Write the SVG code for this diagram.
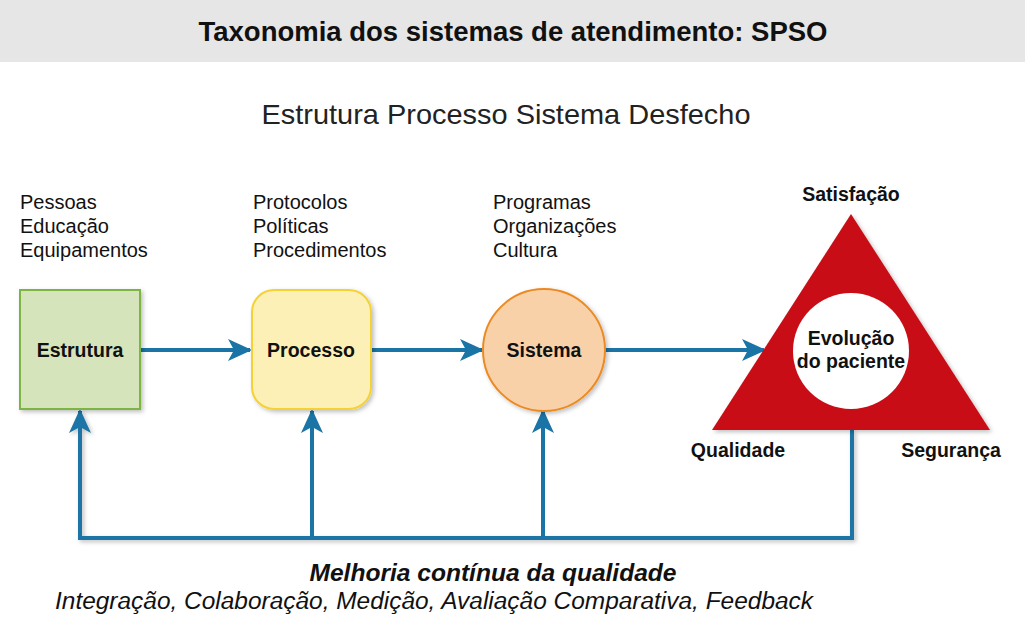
<svg xmlns="http://www.w3.org/2000/svg" width="1025" height="641" viewBox="0 0 1025 641">
<defs>
<style>
text{font-family:"Liberation Sans",Arial,sans-serif;fill:#111}
.b{font-weight:bold}
.lst{font-size:20px}
.lbl{font-size:19.5px;font-weight:bold;text-anchor:middle}
.conn{stroke:#1a74a6;stroke-width:4;fill:none}
</style>
<marker id="ah" viewBox="0 0 24 22" refX="22" refY="11" markerWidth="24" markerHeight="22" markerUnits="userSpaceOnUse" orient="auto">
<path d="M0,0 L24,11 L0,22 L6,11 Z" fill="#1a74a6"/>
</marker>
<filter id="sh" x="-20%" y="-20%" width="140%" height="140%">
<feDropShadow dx="2" dy="2" stdDeviation="2" flood-color="#000" flood-opacity="0.25"/>
</filter>
</defs>
<rect x="0" y="0" width="1025" height="62" fill="#e6e6e6"/>
<text x="513" y="41" class="b" font-size="27" text-anchor="middle" textLength="629" lengthAdjust="spacingAndGlyphs">Taxonomia dos sistemas de atendimento: SPSO</text>
<text x="506" y="124" font-size="28" text-anchor="middle" textLength="489" lengthAdjust="spacingAndGlyphs" style="fill:#222">Estrutura Processo Sistema Desfecho</text>

<g id="lists">
<text class="lst" x="20" y="209">Pessoas</text>
<text class="lst" x="20" y="233">Educação</text>
<text class="lst" x="20" y="257">Equipamentos</text>
<text class="lst" x="253" y="209">Protocolos</text>
<text class="lst" x="253" y="233">Políticas</text>
<text class="lst" x="253" y="257">Procedimentos</text>
<text class="lst" x="493" y="209">Programas</text>
<text class="lst" x="493" y="233">Organizações</text>
<text class="lst" x="493" y="257">Cultura</text>
</g>

<g id="connectors">
<line class="conn" x1="140" y1="350" x2="250" y2="350" marker-end="url(#ah)"/>
<line class="conn" x1="371" y1="350" x2="482" y2="350" marker-end="url(#ah)"/>
<line class="conn" x1="605" y1="350" x2="764" y2="350" marker-end="url(#ah)"/>
<polyline class="conn" points="852,430 852,538 80,538 80,411" marker-end="url(#ah)" filter="url(#sh)"/>
<line class="conn" x1="312" y1="538" x2="312" y2="411" marker-end="url(#ah)"/>
<line class="conn" x1="543" y1="538" x2="543" y2="411" marker-end="url(#ah)"/>
</g>

<g id="estrutura">
<rect x="20" y="290" width="120" height="119" fill="#d5e4ba" stroke="#7db545" stroke-width="2" filter="url(#sh)"/>
<text class="lbl" x="80" y="357">Estrutura</text>
</g>
<g id="processo">
<rect x="252" y="290" width="119" height="119" rx="22" fill="#fdf0b7" stroke="#f5d232" stroke-width="2" filter="url(#sh)"/>
<text class="lbl" x="311" y="357">Processo</text>
</g>
<g id="sistema">
<ellipse cx="544" cy="350" rx="61" ry="61" fill="#f9d1a9" stroke="#ec8a24" stroke-width="2" filter="url(#sh)"/>
<text class="lbl" x="544" y="357">Sistema</text>
</g>
<g id="desfecho">
<polygon points="851,214 712,430 990,430" fill="#c90e15" filter="url(#sh)"/>
<circle cx="851" cy="351" r="58" fill="#fff"/>
<text class="lbl" x="851" y="345">Evolução</text>
<text class="lbl" x="851" y="368">do paciente</text>
<text class="lbl" x="851" y="201">Satisfação</text>
<text class="lbl" x="738" y="457">Qualidade</text>
<text class="lbl" x="951" y="457">Segurança</text>
</g>

<g id="footer">
<text x="493" y="581" font-size="24" font-weight="bold" font-style="italic" text-anchor="middle" textLength="367" lengthAdjust="spacingAndGlyphs">Melhoria contínua da qualidade</text>
<text x="55" y="609" font-size="23" font-style="italic" textLength="758" lengthAdjust="spacingAndGlyphs">Integração, Colaboração, Medição, Avaliação Comparativa, Feedback</text>
</g>
</svg>
